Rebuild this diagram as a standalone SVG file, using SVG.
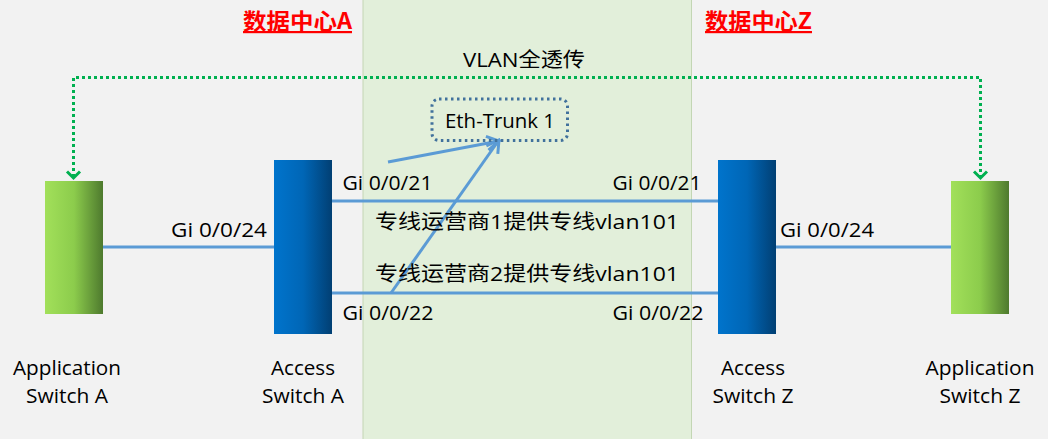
<svg xmlns="http://www.w3.org/2000/svg" width="1048" height="439" viewBox="0 0 1048 439">
<defs>
<style>
.t{font-family:"Open Sans","Noto Sans CJK SC",sans-serif;font-size:20px;fill:#000}
.c{font-family:"Open Sans","Noto Sans CJK SC",sans-serif;font-size:20px;fill:#000}
.h{font-family:"Noto Sans CJK SC","Liberation Sans",sans-serif;font-size:22px;font-weight:bold;fill:#ff0000;text-decoration:underline}
.m{text-anchor:middle}
.link{stroke:#5b9bd5;stroke-width:3;fill:none}
.vlan{stroke:#00b050;stroke-width:3;stroke-dasharray:3 3;fill:none}
</style>
<linearGradient id="gApp" x1="0" y1="0" x2="1" y2="0">
<stop offset="0" stop-color="#a2e05a"/>
<stop offset="0.5" stop-color="#8ccc4c"/>
<stop offset="1" stop-color="#4e7a2e"/>
</linearGradient>
<linearGradient id="gAcc" x1="0" y1="0" x2="1" y2="0">
<stop offset="0" stop-color="#0074cc"/>
<stop offset="0.5" stop-color="#0066b6"/>
<stop offset="1" stop-color="#013f73"/>
</linearGradient>
<marker id="aBlue" markerUnits="userSpaceOnUse" viewBox="-14 -10 16 20" markerWidth="16" markerHeight="20" refX="0" refY="0" orient="auto">
<polyline points="-12,-7 0,0 -12,7" fill="none" stroke="#5b9bd5" stroke-width="3"/>
</marker>
<marker id="aGreen" markerUnits="userSpaceOnUse" viewBox="-10 -10 12 20" markerWidth="12" markerHeight="20" refX="0" refY="0" orient="auto">
<polyline points="-7,-6.5 0,0 -7,6.5" fill="none" stroke="#00b050" stroke-width="3"/>
</marker>
</defs>
<rect x="0" y="0" width="1048" height="439" fill="#f2f2f2"/>
<rect id="band" x="363" y="-1" width="328.5" height="441" fill="#e2efda" stroke="#c3d6b4" stroke-width="1"/>

<g id="headers">
<text class="h" x="243" y="29" textLength="109" lengthAdjust="spacingAndGlyphs">数据中心A</text>
<text class="h" x="705" y="29" textLength="107" lengthAdjust="spacingAndGlyphs">数据中心Z</text>
</g>

<g id="connectors">
<line class="link" x1="103" y1="247" x2="274" y2="247"/>
<line class="link" x1="776" y1="247" x2="951" y2="247"/>
<line class="link" x1="332" y1="201" x2="718" y2="201"/>
<line class="link" x1="332" y1="293" x2="718" y2="293"/>
<line class="link" x1="388" y1="162" x2="499" y2="141" marker-end="url(#aBlue)"/>
<line class="link" x1="391" y1="293" x2="499" y2="140" marker-end="url(#aBlue)"/>
<polyline class="vlan" points="73.5,177 73.5,77.5 980.5,77.5 980.5,177"/>
<polyline points="67,171.5 73.5,178 80,171.5" fill="none" stroke="#00b050" stroke-width="3"/>
<polyline points="974,171.5 980.5,178 987,171.5" fill="none" stroke="#00b050" stroke-width="3"/>
</g>

<g id="vlan-label">
<text class="c" x="463" y="67" textLength="122" lengthAdjust="spacingAndGlyphs">VLAN全透传</text>
</g>

<g id="eth-trunk">
<rect x="432" y="99" width="135.5" height="41.5" rx="7" ry="7" fill="none" stroke="#41719c" stroke-width="3" stroke-dasharray="2.5 3.5"/>
<text class="t" x="445" y="128" textLength="110" lengthAdjust="spacingAndGlyphs">Eth-Trunk 1</text>
</g>

<g id="app-switch-a">
<rect x="45" y="181" width="58" height="133" fill="url(#gApp)"/>
<text class="t m" x="67" y="375" textLength="108" lengthAdjust="spacingAndGlyphs">Application</text>
<text class="t m" x="67" y="403" textLength="82" lengthAdjust="spacingAndGlyphs">Switch A</text>
</g>
<g id="access-switch-a">
<rect x="274" y="160" width="58" height="174" fill="url(#gAcc)"/>
<text class="t m" x="303" y="375" textLength="64" lengthAdjust="spacingAndGlyphs">Access</text>
<text class="t m" x="303" y="403" textLength="82" lengthAdjust="spacingAndGlyphs">Switch A</text>
</g>
<g id="access-switch-z">
<rect x="718" y="160" width="58" height="174" fill="url(#gAcc)"/>
<text class="t m" x="753" y="375" textLength="64" lengthAdjust="spacingAndGlyphs">Access</text>
<text class="t m" x="753" y="403" textLength="81" lengthAdjust="spacingAndGlyphs">Switch Z</text>
</g>
<g id="app-switch-z">
<rect x="951" y="181" width="58" height="133" fill="url(#gApp)"/>
<text class="t m" x="980" y="375" textLength="109" lengthAdjust="spacingAndGlyphs">Application</text>
<text class="t m" x="980" y="403" textLength="81" lengthAdjust="spacingAndGlyphs">Switch Z</text>
</g>

<g id="labels">
<text class="t" x="171" y="237" textLength="96" lengthAdjust="spacingAndGlyphs">Gi 0/0/24</text>
<text class="t" x="780" y="237" textLength="94" lengthAdjust="spacingAndGlyphs">Gi 0/0/24</text>
<text class="t" x="342.5" y="190" textLength="90" lengthAdjust="spacingAndGlyphs">Gi 0/0/21</text>
<text class="t" x="612.5" y="190" textLength="89" lengthAdjust="spacingAndGlyphs">Gi 0/0/21</text>
<text class="t" x="342.5" y="320" textLength="91" lengthAdjust="spacingAndGlyphs">Gi 0/0/22</text>
<text class="t" x="612.5" y="320" textLength="91" lengthAdjust="spacingAndGlyphs">Gi 0/0/22</text>
<text class="c" x="375" y="229" textLength="304" lengthAdjust="spacingAndGlyphs">专线运营商1提供专线vlan101</text>
<text class="c" x="375" y="281" textLength="304" lengthAdjust="spacingAndGlyphs">专线运营商2提供专线vlan101</text>
</g>
</svg>
